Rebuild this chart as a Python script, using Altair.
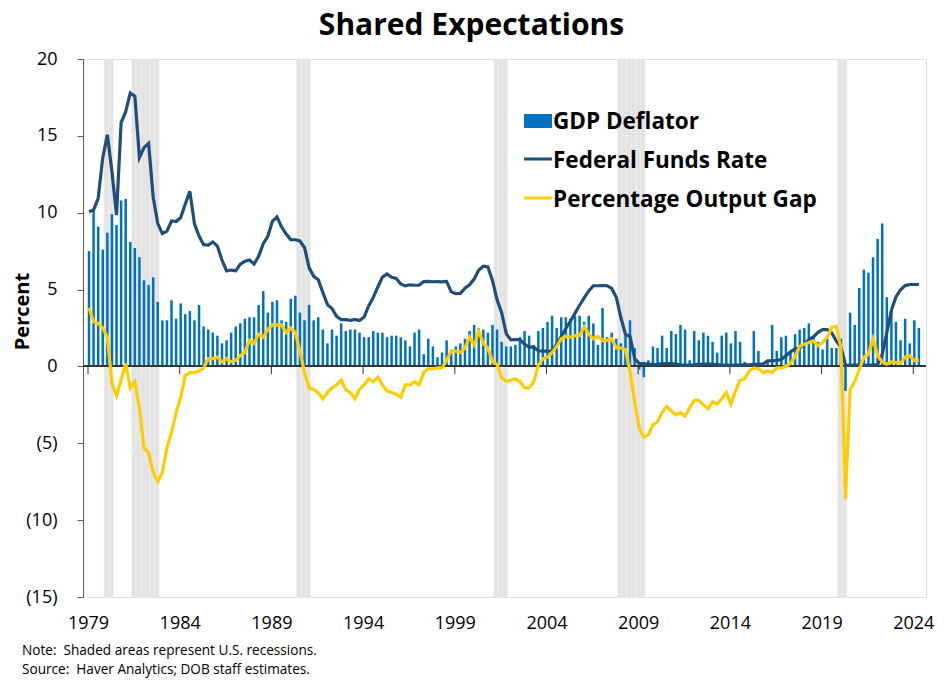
import altair as alt
import pandas as pd

# ---------------- data (quarterly, 1979Q1 - 2024Q2) ----------------
start_year = 1979
gdp_deflator = [
    7.5, 10.1, 9.1, 7.6,   8.7, 9.9, 9.2, 10.8,   10.9, 8.1, 7.7, 7.1,   5.6, 5.3, 5.8, 4.2,
    3.0, 3.0, 4.3, 3.1,    4.1, 3.4, 3.6, 3.0,    4.0, 2.6, 2.4, 2.2,    2.0, 1.5, 1.7, 2.2,
    2.6, 2.8, 3.1, 3.2,    3.2, 4.0, 4.9, 3.5,    4.2, 4.3, 3.0, 2.9,    4.4, 4.6, 3.5, 3.0,
    4.0, 3.0, 3.2, 2.4,    1.5, 2.4, 2.0, 2.8,    2.3, 2.4, 2.4, 2.2,    1.9, 1.9, 2.3, 2.2,
    2.2, 1.9, 2.0, 2.0,    1.9, 1.7, 1.3, 2.2,    2.4, 0.8, 1.8, 1.3,    0.6, 0.9, 1.7, 1.1,
    1.3, 1.5, 1.8, 2.3,    2.7, 2.5, 2.4, 2.2,    2.7, 2.4, 1.6, 1.3,    1.3, 1.4, 1.9, 2.3,
    2.0, 1.4, 2.3, 2.5,    2.9, 3.3, 2.5, 3.2,    3.2, 3.1, 3.3, 3.3,    2.9, 3.3, 2.8, 1.4,
    3.8, 1.9, 2.2, 1.8,    1.5, 2.0, 3.0, 1.2,    -0.2, -0.7, 0.4, 1.3,  1.2, 2.0, 1.2, 2.3,
    2.1, 2.7, 2.4, 0.4,    2.3, 1.7, 2.2, 2.0,    1.6, 0.9, 2.0, 2.2,    1.5, 2.3, 1.6, 0.3,
    0.1, 2.3, 1.0, 0.1,    0.4, 2.7, 1.0, 1.9,    2.0, 1.0, 2.1, 2.4,    2.5, 2.8, 2.0, 1.6,
    1.1, 1.8, 1.2, 1.2,    1.8, -1.6, 3.5, 2.7,   5.1, 6.3, 6.1, 7.1,    8.3, 9.3, 4.5, 3.6,
    2.9, 1.7, 3.1, 1.5,    3.0, 2.5,
]
fed_funds = [
    10.07, 10.18, 10.94, 13.58,  15.07, 12.69, 9.84, 15.85,  16.57, 17.78, 17.58, 13.59,
    14.23, 14.51, 11.01, 9.29,   8.65, 8.80, 9.46, 9.43,     9.69, 10.56, 11.39, 9.27,
    8.48, 7.92, 7.90, 8.10,      7.83, 6.92, 6.21, 6.27,     6.22, 6.65, 6.84, 6.92,
    6.66, 7.16, 7.98, 8.47,      9.44, 9.73, 9.08, 8.61,     8.25, 8.24, 8.16, 7.74,
    6.43, 5.86, 5.64, 4.82,      4.02, 3.77, 3.26, 3.04,     3.04, 3.00, 3.06, 2.99,
    3.21, 3.94, 4.49, 5.17,      5.81, 6.02, 5.80, 5.72,     5.36, 5.24, 5.31, 5.28,
    5.28, 5.52, 5.53, 5.51,      5.52, 5.50, 5.53, 4.86,     4.73, 4.75, 5.09, 5.31,
    5.68, 6.27, 6.52, 6.47,      5.59, 4.33, 3.50, 2.13,     1.73, 1.75, 1.74, 1.44,
    1.25, 1.25, 1.02, 1.00,      1.00, 1.01, 1.43, 1.95,     2.47, 2.94, 3.46, 3.98,
    4.46, 4.91, 5.25, 5.25,      5.26, 5.25, 5.07, 4.50,     3.18, 2.09, 1.94, 0.51,
    0.18, 0.18, 0.16, 0.12,      0.13, 0.19, 0.19, 0.19,     0.16, 0.09, 0.08, 0.07,
    0.10, 0.15, 0.14, 0.16,      0.14, 0.12, 0.08, 0.09,     0.07, 0.09, 0.09, 0.10,
    0.11, 0.13, 0.14, 0.16,      0.36, 0.37, 0.39, 0.45,     0.70, 0.95, 1.15, 1.20,
    1.45, 1.74, 1.92, 2.22,      2.40, 2.40, 2.19, 1.64,     1.26, 0.06, 0.09, 0.09,
    0.08, 0.07, 0.09, 0.08,      0.12, 0.77, 2.19, 3.65,     4.52, 4.99, 5.26, 5.33,
    5.33, 5.33,
]
output_gap = [
    3.8, 2.9, 2.8, 2.5,      1.9, -1.1, -1.9, -0.9,    0.2, -1.4, -1.0, -2.7,    -5.3, -5.6, -6.9, -7.5,
    -6.9, -5.3, -4.3, -3.0,  -2.0, -0.6, -0.4, -0.4,   -0.3, -0.1, 0.5, 0.5,     0.6, 0.3, 0.5, 0.3,
    0.4, 0.7, 0.9, 1.7,      1.5, 2.1, 1.9, 2.4,       2.7, 2.7, 2.7, 2.2,       2.5, 2.2, 1.0, -0.4,
    -1.4, -1.5, -1.7, -2.1,  -1.7, -1.4, -1.2, -0.9,   -1.5, -1.7, -2.1, -1.5,   -1.2, -0.8, -1.0, -0.7,
    -1.2, -1.6, -1.7, -1.8,  -2.0, -1.2, -1.2, -1.0,   -1.2, -0.4, -0.15, -0.15, -0.1, -0.1, 0.4, 1.0,
    1.0, 0.9, 1.2, 1.9,      1.4, 2.3, 1.5, 1.2,       0.3, 0.15, -0.75, -0.95,  -0.9, -0.8, -1.0, -1.4,
    -1.4, -1.0, 0.1, 0.5,    0.6, 0.9, 1.3, 1.8,       1.95, 1.9, 2.0, 2.0,      2.6, 2.1, 1.8, 1.95,
    1.7, 1.7, 1.8, 1.2,      1.2, 1.1, -0.3, -2.3,     -4.0, -4.6, -4.45, -3.8,  -3.6, -3.0, -2.6, -2.9,
    -3.15, -3.0, -3.25, -2.7, -2.2, -2.2, -2.5, -2.75, -2.3, -2.45, -2.1, -1.7,  -2.45, -1.6, -0.9, -0.8,
    -0.3, -0.1, -0.15, -0.4, -0.3, -0.4, -0.1, -0.1,   0.0, 0.2, 0.65, 1.3,      1.45, 1.55, 1.65, 1.35,
    1.55, 1.9, 2.55, 2.6,    1.2, -8.6, -1.5, -1.0,    -0.2, 0.6, 0.8, 1.8,      0.7, 0.3, 0.15, 0.3,
    0.25, 0.2, 0.6, 0.7,     0.4, 0.4,
]
recession_quarters = [
    "1980Q1", "1980Q2",
    "1981Q3", "1981Q4", "1982Q1", "1982Q2", "1982Q3", "1982Q4",
    "1990Q3", "1990Q4", "1991Q1",
    "2001Q2", "2001Q3", "2001Q4",
    "2008Q1", "2008Q2", "2008Q3", "2008Q4", "2009Q1", "2009Q2",
    "2020Q1", "2020Q2",
]
x_tick_years = [1979, 1984, 1989, 1994, 1999, 2004, 2009, 2014, 2019, 2024]
y_tick_values = [-15, -10, -5, 0, 5, 10, 15, 20]
series_names = ["GDP Deflator", "Federal Funds Rate", "Percentage Output Gap"]
notes = ["Note:\u00a0 Shaded areas represent U.S. recessions.",
         "Source:\u00a0 Haver Analytics; DOB staff estimates."]

# ---------------- tables ----------------
n = len(gdp_deflator)
quarters = [f"{start_year + i // 4}Q{i % 4 + 1}" for i in range(n)]


def q_to_t(q):
    return int(q[:4]) + (int(q[-1]) - 1) / 4


df = pd.DataFrame({
    "quarter": quarters,
    "t": [q_to_t(q) for q in quarters],
    "gdp": gdp_deflator,
    "ffr": fed_funds[:n],
    "gap": output_gap[:n],
})
rec_df = pd.DataFrame({"quarter": recession_quarters})
rec_df["t"] = rec_df["quarter"].map(q_to_t)
rec_df["t0"] = rec_df["t"] - 0.125
rec_df["t1"] = rec_df["t"] + 0.125
tick_df = pd.DataFrame({"t": x_tick_years})

# ---------------- styling ----------------
W, H = 843, 538
FONT = "Open Sans"
NAVY = "#1F4E79"
BLUE = "#0070C0"
GOLD = "#FFCC00"

xscale = alt.Scale(domain=[1979, 2024.42], nice=False, zero=False)
yscale = alt.Scale(domain=[-15, 20], nice=False, zero=False)
x_axis = alt.Axis(values=x_tick_years, format="d", domain=False, ticks=False, grid=False,
                  labelPadding=17, labelFontSize=18, labelColor="#000000", labelFont=FONT,
                  title=None)
y_axis = alt.Axis(values=y_tick_values,
                  labelExpr="datum.value < 0 ? '(' + abs(datum.value) + ')' : '' + datum.value",
                  domain=True, domainColor="#595959", domainWidth=1,
                  ticks=True, tickSize=6, tickColor="#595959", grid=False,
                  labelPadding=20, labelFontSize=18, labelColor="#000000", labelFont=FONT,
                  title="Percent", titleFontSize=20, titleFont=FONT, titleFontWeight="bold",
                  titleColor="#000000", titleAngle=-90, titleX=-51, titleY=252,
                  titleAlign="center")


def X(field):
    return alt.X(field, type="quantitative", scale=xscale, axis=x_axis)


def Y(field):
    return alt.Y(field, type="quantitative", scale=yscale, axis=y_axis)


recessions = alt.Chart(rec_df).mark_rect(
    color="#E3E3E3", stroke="#EFEFEF", strokeWidth=0.6
).encode(x=X("t0"), x2="t1", y=alt.value(0), y2=alt.value(H))

bars = alt.Chart(df).mark_bar(color=BLUE, width=2.5, xOffset=1).encode(
    x=X("t"), y=Y("gdp"), y2=alt.datum(0)
)

zero_line = alt.Chart(tick_df).mark_rule(color="#333333", strokeWidth=1.2).encode(
    x=alt.value(0), x2=alt.value(W), y=Y("z")
).transform_calculate(z="0")

zero_ticks = alt.Chart(tick_df).mark_rule(color="#333333", strokeWidth=1).encode(
    x=X("t"), y=Y("z0"), y2="z1:Q"
).transform_calculate(z0="0", z1="-0.5")

ffr_line = alt.Chart(df).mark_line(color=NAVY, strokeWidth=3.2, xOffset=1).encode(
    x=X("t"), y=Y("ffr")
)
gap_line = alt.Chart(df).mark_line(color=GOLD, strokeWidth=3.2, xOffset=1).encode(
    x=X("t"), y=Y("gap")
)

one = pd.DataFrame({"a": [0]})
leg_rect = alt.Chart(one).mark_rect(color=BLUE).encode(
    x=alt.value(441), x2=alt.value(469), y=alt.value(55), y2=alt.value(69))
leg_l1 = alt.Chart(one).mark_rule(color=NAVY, strokeWidth=3).encode(
    x=alt.value(441), x2=alt.value(469), y=alt.value(100))
leg_l2 = alt.Chart(one).mark_rule(color=GOLD, strokeWidth=3).encode(
    x=alt.value(441), x2=alt.value(469), y=alt.value(139))
leg_texts = [
    alt.Chart(one).mark_text(align="left", baseline="middle", fontSize=22.5, fontWeight="bold",
                             font=FONT, color="#000000").encode(
        x=alt.value(470), y=alt.value(yy), text=alt.value(name))
    for name, yy in zip(series_names, [63, 102, 141])
]
note_texts = [
    alt.Chart(one).mark_text(align="left", baseline="middle", fontSize=13.6, font=FONT,
                             color="#000000").encode(
        x=alt.value(-61), y=alt.value(yy), text=alt.value(txt))
    for txt, yy in zip(notes, [592, 611])
]

chart = alt.layer(
    recessions, bars, zero_line, zero_ticks, ffr_line, gap_line,
    leg_rect, leg_l1, leg_l2, *leg_texts, *note_texts
).properties(
    width=W, height=H,
    title=alt.TitleParams("Shared Expectations", fontSize=30, fontWeight="bold", font=FONT,
                          color="#000000", anchor="middle", dx=-33, offset=9),
    padding={"left": 75, "top": 51, "right": 10, "bottom": 85},
    autosize="none",
).configure_view(stroke=None).configure(background="white")

chart.save("out.html", embed_options={"renderer": "svg", "actions": False})
